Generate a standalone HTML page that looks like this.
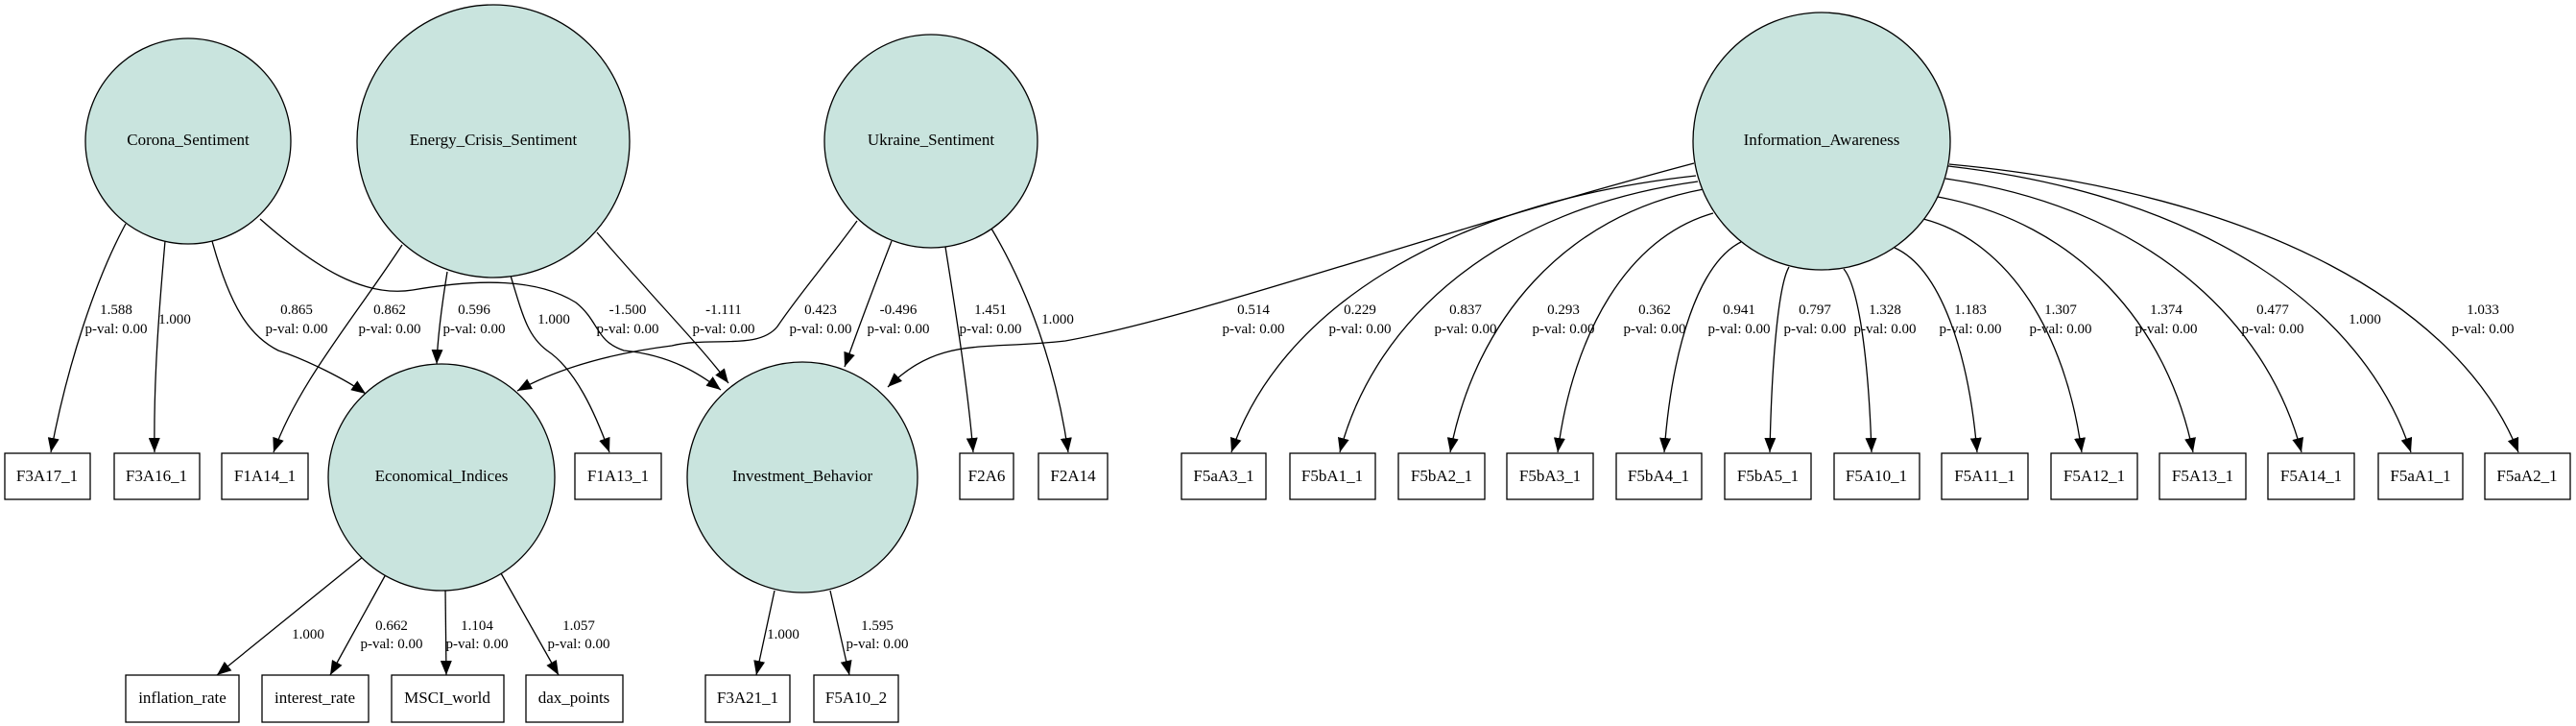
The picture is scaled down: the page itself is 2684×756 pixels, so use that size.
<!DOCTYPE html>
<html><head><meta charset="utf-8"><style>
html,body{margin:0;padding:0;background:#fff;}
svg{display:block;font-family:"Liberation Serif",serif;}
.n{font-size:17px;text-anchor:middle;dominant-baseline:middle;}
.l{font-size:15px;text-anchor:middle;}
path{fill:none;stroke:#000;stroke-width:1.3;}
</style></head><body>
<svg width="2684" height="756" viewBox="0 0 2684 756" xmlns="http://www.w3.org/2000/svg">
<defs><marker id="a" markerUnits="userSpaceOnUse" markerWidth="16" markerHeight="12" refX="15" refY="6" orient="auto"><polygon points="0,0 15,6 0,12" fill="#000"/></marker></defs>
<g marker-end="url(#a)">
<path d="M131,233 C100,290 70,380 53,471"/>
<path d="M172,251 C165,330 160,400 161,471"/>
<path d="M221,251 C240,320 260,350 290,365 C320,375 360,395 381,410"/>
<path d="M271,228 C330,280 380,310 430,302 C500,290 560,290 600,315 C625,335 620,355 650,365 C700,370 730,390 751,406"/>
<path d="M419,255 C370,330 310,400 285,471"/>
<path d="M466,283 C460,320 456,350 455,379"/>
<path d="M532,287 C545,330 550,350 570,365 C600,385 620,430 635,471"/>
<path d="M622,242 C680,310 730,360 759,399"/>
<path d="M893,230 C860,275 830,310 810,340 C790,365 740,350 700,360 C620,370 570,390 539,407"/>
<path d="M929,251 C910,300 895,340 880,382"/>
<path d="M985,257 C995,320 1008,400 1014,471"/>
<path d="M1033,238 C1070,300 1100,380 1113,471"/>
<path d="M1765,170 C1500,240 1250,330 1110,355 C1020,365 980,350 925,403"/>
<path d="M1767,183 C1501,212 1331,327 1283,471"/>
<path d="M1769,189 C1564,217 1433,330 1396,471"/>
<path d="M1775,197 C1630,224 1537,334 1511,471"/>
<path d="M1785,222 C1696,247 1639,347 1623,471"/>
<path d="M1814,252 C1770,274 1742,362 1734,471"/>
<path d="M1864,278 C1853,297 1846,375 1844,471"/>
<path d="M1921,280 C1937,299 1947,376 1950,471"/>
<path d="M1974,258 C2021,279 2051,365 2060,471"/>
<path d="M2004,228 C2095,252 2153,350 2169,471"/>
<path d="M2019,205 C2165,232 2258,338 2285,471"/>
<path d="M2027,186 C2231,215 2361,329 2398,471"/>
<path d="M2030,173 C2295,203 2464,322 2512,471"/>
<path d="M2031,171 C2357,201 2565,321 2624,471"/>
<path d="M378,580 L226,703"/>
<path d="M402,598 L344,703"/>
<path d="M464,613 L465,703"/>
<path d="M522,597 L582,703"/>
<path d="M807,615 L788,703"/>
<path d="M865,615 L885,703"/>
</g>
<g fill="#c9e4de" stroke="#000" stroke-width="1.3">
<circle cx="196" cy="147" r="107"/>
<circle cx="514" cy="147" r="142"/>
<circle cx="970" cy="147" r="111"/>
<circle cx="1898" cy="147" r="134"/>
<circle cx="460" cy="497" r="118"/>
<circle cx="836" cy="497" r="120"/>
</g>
<g class="n">
<text x="196" y="147">Corona_Sentiment</text>
<text x="514" y="147">Energy_Crisis_Sentiment</text>
<text x="970" y="147">Ukraine_Sentiment</text>
<text x="1898" y="147">Information_Awareness</text>
<text x="460" y="497">Economical_Indices</text>
<text x="836" y="497">Investment_Behavior</text>
</g>
<g fill="#fff" stroke="#000" stroke-width="1.3">
<rect x="5" y="472" width="89" height="48"/><rect x="119" y="472" width="89" height="48"/><rect x="231" y="472" width="90" height="48"/><rect x="599" y="472" width="90" height="48"/>
<rect x="1000" y="472" width="56" height="48"/><rect x="1082" y="472" width="72" height="48"/>
<rect x="1231" y="472" width="88" height="48"/><rect x="1344" y="472" width="89" height="48"/><rect x="1457" y="472" width="90" height="48"/><rect x="1570" y="472" width="90" height="48"/><rect x="1684" y="472" width="89" height="48"/><rect x="1797" y="472" width="90" height="48"/>
<rect x="1911" y="472" width="89" height="48"/><rect x="2023" y="472" width="90" height="48"/><rect x="2137" y="472" width="90" height="48"/><rect x="2250" y="472" width="90" height="48"/><rect x="2363" y="472" width="90" height="48"/><rect x="2478" y="472" width="88" height="48"/><rect x="2589" y="472" width="89" height="48"/>
<rect x="131" y="703" width="118" height="49"/><rect x="273" y="703" width="111" height="49"/><rect x="408" y="703" width="117" height="49"/><rect x="548" y="703" width="101" height="49"/><rect x="735" y="703" width="88" height="49"/><rect x="848" y="703" width="88" height="49"/>
</g>
<g class="n">
<text x="49" y="497">F3A17_1</text><text x="163" y="497">F3A16_1</text><text x="276" y="497">F1A14_1</text><text x="644" y="497">F1A13_1</text>
<text x="1028" y="497">F2A6</text><text x="1118" y="497">F2A14</text>
<text x="1275" y="497">F5aA3_1</text><text x="1388" y="497">F5bA1_1</text><text x="1502" y="497">F5bA2_1</text><text x="1615" y="497">F5bA3_1</text><text x="1728" y="497">F5bA4_1</text><text x="1842" y="497">F5bA5_1</text>
<text x="1955" y="497">F5A10_1</text><text x="2068" y="497">F5A11_1</text><text x="2182" y="497">F5A12_1</text><text x="2295" y="497">F5A13_1</text><text x="2408" y="497">F5A14_1</text><text x="2522" y="497">F5aA1_1</text><text x="2633" y="497">F5aA2_1</text>
<text x="190" y="728">inflation_rate</text><text x="328" y="728">interest_rate</text><text x="466" y="728">MSCI_world</text><text x="598" y="728">dax_points</text><text x="779" y="728">F3A21_1</text><text x="892" y="728">F5A10_2</text>
</g>
<g class="l">
<text x="121" y="327">1.588</text><text x="121" y="347">p-val: 0.00</text>
<text x="182" y="337">1.000</text>
<text x="309" y="327">0.865</text><text x="309" y="347">p-val: 0.00</text>
<text x="406" y="327">0.862</text><text x="406" y="347">p-val: 0.00</text>
<text x="494" y="327">0.596</text><text x="494" y="347">p-val: 0.00</text>
<text x="577" y="337">1.000</text>
<text x="654" y="327">-1.500</text><text x="654" y="347">p-val: 0.00</text>
<text x="754" y="327">-1.111</text><text x="754" y="347">p-val: 0.00</text>
<text x="855" y="327">0.423</text><text x="855" y="347">p-val: 0.00</text>
<text x="936" y="327">-0.496</text><text x="936" y="347">p-val: 0.00</text>
<text x="1032" y="327">1.451</text><text x="1032" y="347">p-val: 0.00</text>
<text x="1102" y="337">1.000</text>
<text x="1306" y="327">0.514</text><text x="1306" y="347">p-val: 0.00</text>
<text x="1417" y="327">0.229</text><text x="1417" y="347">p-val: 0.00</text>
<text x="1527" y="327">0.837</text><text x="1527" y="347">p-val: 0.00</text>
<text x="1629" y="327">0.293</text><text x="1629" y="347">p-val: 0.00</text>
<text x="1724" y="327">0.362</text><text x="1724" y="347">p-val: 0.00</text>
<text x="1812" y="327">0.941</text><text x="1812" y="347">p-val: 0.00</text>
<text x="1891" y="327">0.797</text><text x="1891" y="347">p-val: 0.00</text>
<text x="1964" y="327">1.328</text><text x="1964" y="347">p-val: 0.00</text>
<text x="2053" y="327">1.183</text><text x="2053" y="347">p-val: 0.00</text>
<text x="2147" y="327">1.307</text><text x="2147" y="347">p-val: 0.00</text>
<text x="2257" y="327">1.374</text><text x="2257" y="347">p-val: 0.00</text>
<text x="2368" y="327">0.477</text><text x="2368" y="347">p-val: 0.00</text>
<text x="2464" y="337">1.000</text>
<text x="2587" y="327">1.033</text><text x="2587" y="347">p-val: 0.00</text>
<text x="321" y="665">1.000</text>
<text x="408" y="656">0.662</text><text x="408" y="675">p-val: 0.00</text>
<text x="497" y="656">1.104</text><text x="497" y="675">p-val: 0.00</text>
<text x="603" y="656">1.057</text><text x="603" y="675">p-val: 0.00</text>
<text x="816" y="665">1.000</text>
<text x="914" y="656">1.595</text><text x="914" y="675">p-val: 0.00</text>
</g>
</svg>
</body></html>
